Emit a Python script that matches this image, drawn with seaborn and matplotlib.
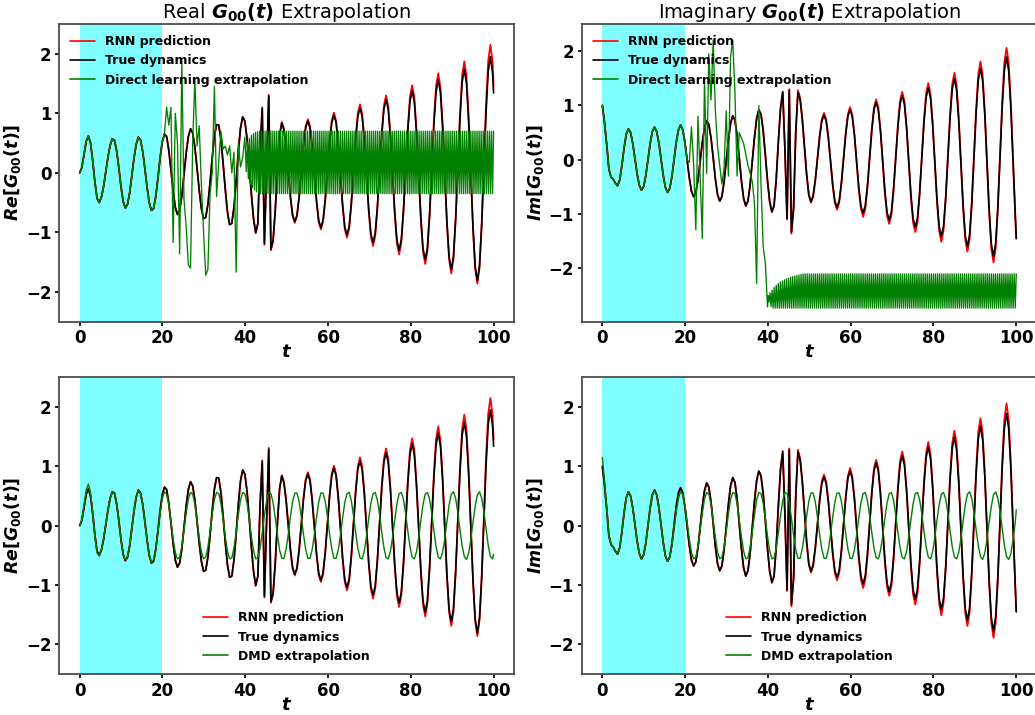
import numpy as np
import matplotlib
matplotlib.use("Agg")
import matplotlib.pyplot as plt
import seaborn as sns

# ---------------------------------------------------------------------------
# Sampling grid shared by the true / RNN / DMD series (step 0.525, ends at 100)
# ---------------------------------------------------------------------------
t = np.append(np.arange(191) * 0.525, 100.0)

# Real part of G00(t): true dynamics
true_re = [
    0.00, 0.09, 0.31, 0.53, 0.62, 0.50, 0.20, -0.16, -0.43, -0.50,
    -0.41, -0.23, 0.02, 0.26, 0.46, 0.57, 0.55, 0.37, 0.09, -0.23,
    -0.48, -0.59, -0.53, -0.34, -0.05, 0.25, 0.48, 0.60, 0.55, 0.36,
    0.07, -0.24, -0.50, -0.63, -0.60, -0.40, -0.09, 0.25, 0.52, 0.65,
    0.61, 0.38, 0.05, -0.30, -0.58, -0.70, -0.63, -0.39, -0.03, 0.33,
    0.61, 0.74, 0.67, 0.43, 0.08, -0.29, -0.60, -0.77, -0.75, -0.53,
    -0.16, 0.26, 0.62, 0.81, 0.80, 0.56, 0.16, -0.28, -0.66, -0.87,
    -0.85, -0.58, -0.14, 0.35, 0.75, 0.94, 0.87, 0.58, 0.14, -0.35,
    -0.77, -1.01, -0.85, 0.34, 1.08, -1.19, 0.05, 1.29, -1.28, -1.14,
    -0.62, 0.05, 0.62, 0.84, 0.72, 0.42, 0.01, -0.41, -0.71, -0.82,
    -0.71, -0.40, 0.03, 0.45, 0.76, 0.87, 0.75, 0.42, -0.03, -0.47,
    -0.80, -0.92, -0.79, -0.45, 0.03, 0.50, 0.84, 0.97, 0.84, 0.47,
    -0.04, -0.54, -0.91, -1.04, -0.90, -0.51, 0.03, 0.56, 0.95, 1.09,
    0.94, 0.53, -0.04, -0.61, -1.02, -1.17, -1.01, -0.57, 0.03, 0.63,
    1.07, 1.23, 1.06, 0.60, -0.04, -0.67, -1.13, -1.30, -1.12, -0.63,
    0.04, 0.71, 1.20, 1.38, 1.19, 0.67, -0.04, -0.75, -1.27, -1.46,
    -1.26, -0.71, 0.05, 0.81, 1.36, 1.56, 1.35, 0.77, -0.03, -0.83,
    -1.41, -1.62, -1.40, -0.78, 0.06, 0.90, 1.52, 1.74, 1.50, 0.85,
    -0.04, -0.92, -1.57, -1.81, -1.56, -0.87, 0.07, 1.01, 1.70, 1.95,
    1.68, 1.34,
]

# RNN prediction (real part): identical to the true curve up to t = 43.6
rnn_re_late = [
    1.10, -1.21, 0.05, 1.31, -1.30, -1.15, -0.63, 0.05, 0.63, 0.85,
    0.74, 0.43, 0.01, -0.42, -0.73, -0.84, -0.72, -0.41, 0.03, 0.47,
    0.78, 0.90, 0.78, 0.44, -0.03, -0.49, -0.83, -0.95, -0.82, -0.46,
    0.03, 0.52, 0.88, 1.01, 0.87, 0.49, -0.04, -0.57, -0.95, -1.09,
    -0.94, -0.53, 0.03, 0.59, 1.00, 1.15, 0.99, 0.56, -0.04, -0.64,
    -1.07, -1.23, -1.06, -0.60, 0.04, 0.67, 1.13, 1.30, 1.12, 0.63,
    -0.04, -0.70, -1.19, -1.37, -1.18, -0.66, 0.05, 0.76, 1.28, 1.47,
    1.27, 0.72, -0.03, -0.78, -1.33, -1.53, -1.32, -0.73, 0.07, 0.87,
    1.46, 1.67, 1.44, 0.83, -0.01, -0.85, -1.46, -1.69, -1.45, -0.80,
    0.09, 0.98, 1.63, 1.87, 1.62, 0.94, 0.01, -0.93, -1.61, -1.86,
    -1.59, -0.86, 0.15, 1.15, 1.88, 2.15, 1.86, 1.45,
]
rnn_re = true_re[:84] + rnn_re_late

# Imaginary part of G00(t): true dynamics
true_im = [
    1.00, 0.68, 0.28, -0.17, -0.32, -0.36, -0.43, -0.48, -0.37, -0.10,
    0.22, 0.47, 0.57, 0.50, 0.30, 0.02, -0.26, -0.47, -0.56, -0.49,
    -0.29, 0.00, 0.30, 0.52, 0.60, 0.52, 0.31, 0.01, -0.28, -0.51,
    -0.60, -0.53, -0.31, 0.00, 0.32, 0.55, 0.64, 0.55, 0.32, 0.00,
    -0.33, -0.58, -0.68, -0.61, -0.37, -0.03, 0.32, 0.59, 0.72, 0.65,
    0.40, 0.04, -0.35, -0.64, -0.76, -0.68, -0.41, -0.03, 0.36, 0.67,
    0.81, 0.73, 0.45, 0.04, -0.39, -0.71, -0.85, -0.76, -0.46, -0.03,
    0.41, 0.76, 0.92, 0.84, 0.54, 0.09, -0.39, -0.77, -0.96, -0.85,
    -0.36, 0.34, 0.95, 1.24, 0.20, -1.08, 1.28, -1.33, -0.88, 0.50,
    1.24, 1.11, 0.74, 0.24, -0.27, -0.64, -0.77, -0.66, -0.37, 0.03,
    0.42, 0.71, 0.82, 0.71, 0.40, -0.03, -0.45, -0.76, -0.87, -0.75,
    -0.42, 0.03, 0.47, 0.80, 0.92, 0.79, 0.45, -0.03, -0.51, -0.85,
    -0.98, -0.84, -0.47, 0.04, 0.55, 0.92, 1.06, 0.91, 0.52, -0.03,
    -0.57, -0.96, -1.11, -0.96, -0.54, 0.04, 0.61, 1.03, 1.18, 1.02,
    0.58, -0.03, -0.64, -1.08, -1.24, -1.07, -0.60, 0.04, 0.68, 1.15,
    1.32, 1.14, 0.64, -0.05, -0.73, -1.23, -1.41, -1.22, -0.69, 0.04,
    0.77, 1.30, 1.49, 1.28, 0.72, -0.06, -0.83, -1.39, -1.60, -1.38,
    -0.78, 0.04, 0.86, 1.46, 1.68, 1.45, 0.82, -0.05, -0.92, -1.55,
    -1.78, -1.53, -0.86, 0.06, 0.97, 1.64, 1.89, 1.63, 0.93, -0.04,
    -1.00, -1.45,
]

# RNN prediction (imaginary part): identical to the true curve up to t = 43.1
rnn_im_late = [
    1.26, 0.22, -1.10, 1.30, -1.36, -0.90, 0.52, 1.28,
    1.14, 0.76, 0.25, -0.27, -0.65, -0.79, -0.68, -0.38, 0.04, 0.45,
    0.75, 0.86, 0.74, 0.42, -0.03, -0.48, -0.80, -0.92, -0.79, -0.45,
    0.03, 0.50, 0.84, 0.97, 0.83, 0.47, -0.04, -0.55, -0.91, -1.05,
    -0.91, -0.51, 0.03, 0.57, 0.97, 1.11, 0.96, 0.54, -0.04, -0.61,
    -1.03, -1.18, -1.02, -0.57, 0.04, 0.64, 1.09, 1.25, 1.08, 0.61,
    -0.04, -0.69, -1.16, -1.33, -1.15, -0.65, 0.04, 0.73, 1.23, 1.41,
    1.21, 0.68, -0.05, -0.78, -1.31, -1.51, -1.30, -0.73, 0.05, 0.82,
    1.39, 1.60, 1.38, 0.78, -0.05, -0.87, -1.47, -1.69, -1.46, -0.82,
    0.06, 0.94, 1.58, 1.81, 1.56, 0.89, -0.04, -0.97, -1.64, -1.89,
    -1.63, -0.90, 0.09, 1.07, 1.80, 2.06, 1.78, 1.03, 0.00, -1.03,
    -1.45,
]
rnn_im = true_im[:83] + rnn_im_late

# DMD extrapolation, real part
dmd_re = [
    0.00, 0.10, 0.35, 0.60, 0.70, 0.56, 0.21, -0.19, -0.46, -0.51,
    -0.41, -0.23, 0.02, 0.26, 0.46, 0.57, 0.55, 0.37, 0.09, -0.23,
    -0.48, -0.58, -0.53, -0.34, -0.05, 0.25, 0.48, 0.59, 0.55, 0.36,
    0.07, -0.24, -0.49, -0.62, -0.58, -0.40, -0.11, 0.20, 0.45,
    0.57, 0.53, 0.35, 0.07, -0.22, -0.45, -0.56, -0.53, -0.35, -0.08, 0.21, 0.45, 0.56,
    0.53, 0.36, 0.09, -0.20, -0.44, -0.56, -0.53, -0.36, -0.10, 0.20, 0.44, 0.56,
    0.54, 0.37, 0.10, -0.19, -0.43, -0.56, -0.54, -0.37, -0.11, 0.18, 0.43, 0.56,
    0.54, 0.38, 0.12, -0.18, -0.42, -0.56, -0.54, -0.38, -0.12, 0.17, 0.42, 0.56,
    0.54, 0.39, 0.13, -0.16, -0.41, -0.55, -0.55, -0.39, -0.14, 0.16, 0.41, 0.55,
    0.55, 0.40, 0.14, -0.15, -0.40, -0.55, -0.55, -0.40, -0.15, 0.14, 0.40, 0.55,
    0.55, 0.41, 0.16, -0.14, -0.39, -0.55, -0.55, -0.41, -0.16, 0.13, 0.39, 0.54,
    0.56, 0.42, 0.17, -0.12, -0.38, -0.54, -0.56, -0.42, -0.18, 0.12, 0.38, 0.54,
    0.56, 0.43, 0.18, -0.11, -0.37, -0.54, -0.56, -0.43, -0.19, 0.10, 0.37, 0.54,
    0.56, 0.44, 0.20, -0.09, -0.36, -0.53, -0.56, -0.44, -0.20, 0.09, 0.36, 0.53,
    0.56, 0.45, 0.21, -0.08, -0.35, -0.53, -0.56, -0.45, -0.22, 0.07, 0.35, 0.53,
    0.57, 0.46, 0.22, -0.07, -0.34, -0.52, -0.57, -0.46, -0.23, 0.06, 0.33, 0.52,
    0.57, 0.46, 0.24, -0.05, -0.33, -0.52, -0.56, -0.48,
]

# DMD extrapolation, imaginary part
dmd_im = [
    1.15, 0.75, 0.30, -0.15, -0.31, -0.36, -0.43, -0.48, -0.37, -0.10,
    0.22, 0.47, 0.57, 0.50, 0.30, 0.02, -0.26, -0.47, -0.56, -0.49,
    -0.29, 0.00, 0.30, 0.52, 0.59, 0.52, 0.31, 0.01, -0.28, -0.51,
    -0.60, -0.54, -0.34, -0.06, 0.23, 0.46, 0.57,
    0.53, 0.35, 0.07, -0.22, -0.45, -0.56, -0.53, -0.35, -0.08, 0.21, 0.45, 0.56,
    0.53, 0.36, 0.09, -0.20, -0.44, -0.56, -0.53, -0.36, -0.10, 0.20, 0.44, 0.56,
    0.54, 0.37, 0.10, -0.19, -0.43, -0.56, -0.54, -0.37, -0.11, 0.18, 0.43, 0.56,
    0.54, 0.38, 0.12, -0.18, -0.42, -0.56, -0.54, -0.38, -0.12, 0.17, 0.42, 0.56,
    0.54, 0.39, 0.13, -0.16, -0.41, -0.55, -0.55, -0.39, -0.14, 0.16, 0.41, 0.55,
    0.55, 0.40, 0.14, -0.15, -0.40, -0.55, -0.55, -0.40, -0.15, 0.14, 0.40, 0.55,
    0.55, 0.41, 0.16, -0.14, -0.39, -0.55, -0.55, -0.41, -0.16, 0.13, 0.39, 0.54,
    0.56, 0.42, 0.17, -0.12, -0.38, -0.54, -0.56, -0.42, -0.18, 0.12, 0.38, 0.54,
    0.56, 0.43, 0.18, -0.11, -0.37, -0.54, -0.56, -0.43, -0.19, 0.10, 0.37, 0.54,
    0.56, 0.44, 0.20, -0.09, -0.36, -0.53, -0.56, -0.44, -0.20, 0.09, 0.36, 0.53,
    0.56, 0.45, 0.21, -0.08, -0.35, -0.53, -0.56, -0.45, -0.22, 0.07, 0.35, 0.53,
    0.57, 0.46, 0.22, -0.07, -0.34, -0.52, -0.57, -0.46, -0.23, 0.06, 0.33, 0.52,
    0.57, 0.46, 0.24, -0.05, -0.33, -0.52, -0.57, -0.47, -0.24, 0.05, 0.27,
]

# Direct learning extrapolation: follows the data up to t ~ 20, then
# erratic values (t = 20.5 .. 39.9), then a fast two-level oscillation
dl_re_mid = [
    0.65, 1.10, 0.80, 1.10, -1.17, 1.00, 0.50, -1.36, 1.88, -0.45,
    -0.90, -1.55, -1.60, 0.50, 1.58, 0.45, 0.79, -0.20, -1.00, -1.72,
    -1.62, -0.35, 0.00, 1.45, -0.40, 0.20, 0.70, 0.40, 0.45, 0.30,
    0.45, 0.00, 0.35, -1.67, 0.50, 0.10, 0.25, 0.60,
]
dl_im_mid = [
    0.00, -0.05, 0.61, -0.10, -1.29, 0.80, -0.30, -1.45, 1.48, -0.25,
    1.95, 1.10, 2.20, 0.90, 0.25, -0.10, -0.45, -0.15, 0.90, -0.30,
    1.90, 2.20, 1.25, -0.30, 0.50, 0.40, 0.30, 0.10, -0.10, -0.25,
    -0.40, -0.80, -2.28, 1.00, -0.45, -1.60, -1.90, -2.71,
]
# fast oscillation sampled every 0.25 from t = 40 to 100 (upper / lower levels)
t_tail = 40.0 + 0.25 * np.arange(241)
dl_re_hi = [0.45, 0.52, 0.58, 0.63, 0.66, 0.68, 0.69] + [0.70] * 114
dl_re_lo = [0.02, -0.10, -0.19, -0.25, -0.29, -0.32, -0.34] + [-0.35] * 113
dl_im_hi = [-2.50, -2.45, -2.40, -2.35, -2.31, -2.28, -2.25, -2.23, -2.21,
            -2.19, -2.18, -2.16, -2.15, -2.14, -2.13, -2.12, -2.11] + [-2.10] * 104
dl_im_lo = [-2.62, -2.70] + [-2.73] * 118


def interleave(hi, lo):
    out = np.empty(len(hi) + len(lo))
    out[0::2] = hi
    out[1::2] = lo
    return out


t_dl = np.concatenate([t[:77], t_tail])
dl_re = np.concatenate([true_re[:39], dl_re_mid, interleave(dl_re_hi, dl_re_lo)])
dl_im = np.concatenate([true_im[:39], dl_im_mid, interleave(dl_im_hi, dl_im_lo)])

# ---------------------------------------------------------------------------
# Styling
# ---------------------------------------------------------------------------
sns.set_theme(style="ticks")
plt.rcParams.update({
    "font.family": ["DejaVu Sans"],
    "font.weight": "bold",
    "text.color": "black",
    "axes.labelcolor": "black",
    "mathtext.fontset": "custom",
    "mathtext.rm": "DejaVu Sans:bold",
    "mathtext.it": "DejaVu Sans:italic:bold",
    "mathtext.bf": "DejaVu Sans:bold",
    "axes.edgecolor": "0.3",
    "axes.linewidth": 1.3,
    "xtick.major.size": 3,
    "ytick.major.size": 3,
    "xtick.major.pad": 2.5,
    "ytick.major.pad": 2.5,
    "xtick.color": "black",
    "ytick.color": "black",
    "xtick.labelsize": 12,
    "ytick.labelsize": 12,
})

fig = plt.figure(figsize=(10.35, 7.15), dpi=100)
ax_tl = fig.add_axes([0.0570, 0.5501, 0.4399, 0.4164])
ax_tr = fig.add_axes([0.5620, 0.5501, 0.4399, 0.4164])
ax_bl = fig.add_axes([0.0570, 0.0573, 0.4399, 0.4150])
ax_br = fig.add_axes([0.5620, 0.0573, 0.4399, 0.4150])

panels = [
    (ax_tl, rnn_re, true_re, t_dl, dl_re, "Direct learning extrapolation",
     r"$Re[G_{00}(t)]$", r"Real $G_{00}(t)$ Extrapolation", (-2.5, 2.5), "upper left", 0.95),
    (ax_tr, rnn_im, true_im, t_dl, dl_im, "Direct learning extrapolation",
     r"$Im[G_{00}(t)]$", r"Imaginary $G_{00}(t)$ Extrapolation", (-2.98, 2.5), "upper left", 0.95),
    (ax_bl, rnn_re, true_re, t, dmd_re, "DMD extrapolation",
     r"$Re[G_{00}(t)]$", None, (-2.5, 2.5), "lower center", 1.0),
    (ax_br, rnn_im, true_im, t, dmd_im, "DMD extrapolation",
     r"$Im[G_{00}(t)]$", None, (-2.5, 2.5), "lower center", 1.0),
]

for ax, rnn, true, tg, green, glabel, ylab, title, ylim, legloc, glw in panels:
    ax.axvspan(0, 20, color="cyan", alpha=0.5, lw=0)
    sns.lineplot(x=t, y=np.asarray(rnn), ax=ax, color="red", lw=1.3,
                 label="RNN prediction", estimator=None, sort=False)
    sns.lineplot(x=t, y=np.asarray(true), ax=ax, color="black", lw=1.2,
                 label="True dynamics", estimator=None, sort=False)
    sns.lineplot(x=tg, y=np.asarray(green), ax=ax, color="green", lw=glw,
                 label=glabel, estimator=None, sort=False)
    ax.set_xlim(-5, 105)
    ax.set_ylim(*ylim)
    ax.set_xticks([0, 20, 40, 60, 80, 100])
    ax.set_yticks([-2, -1, 0, 1, 2])
    ax.set_xlabel(r"$t$", fontsize=13, labelpad=-3)
    ax.set_ylabel(ylab, fontsize=12.5, labelpad=2)
    if title:
        ax.set_title(title, fontsize=14, fontweight="normal", pad=3)
    leg = ax.legend(loc=legloc, frameon=False, prop={"weight": "bold", "size": 9})
    for line in leg.get_lines():
        line.set_linewidth(1.2)

fig.savefig("out.png", dpi=100)
